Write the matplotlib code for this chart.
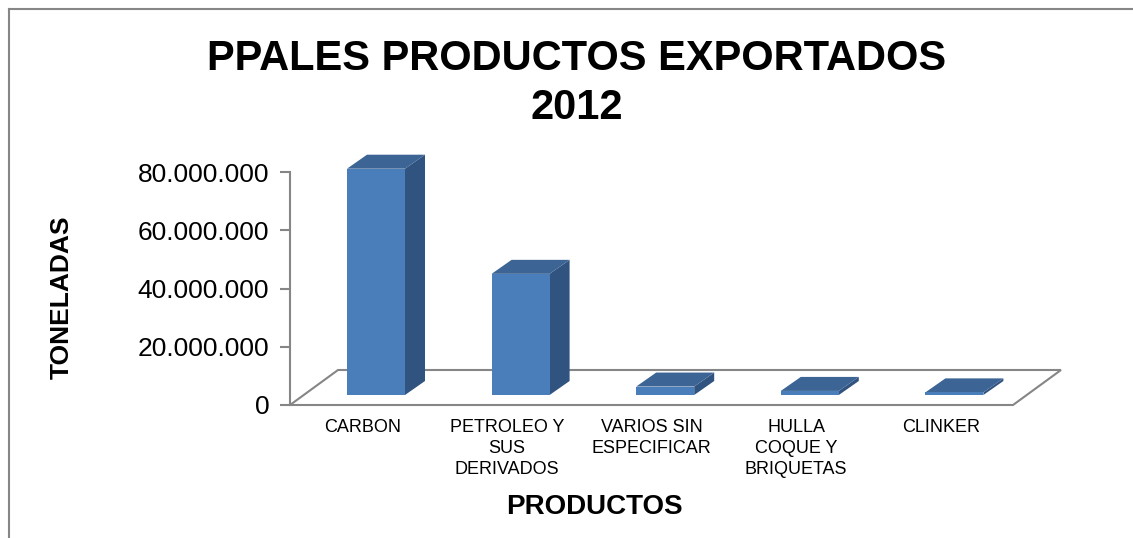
import matplotlib
matplotlib.use('Agg')
import matplotlib.pyplot as plt
from matplotlib.patches import Polygon, Rectangle
from matplotlib.lines import Line2D

# data
categorias = ['CARBON', 'PETROLEO Y\nSUS\nDERIVADOS', 'VARIOS SIN\nESPECIFICAR',
              'HULLA\nCOQUE Y\nBRIQUETAS', 'CLINKER']
toneladas = [77.7e6, 41.6e6, 2.9e6, 1.4e6, 0.9e6]
ticks_y = [0, 20e6, 40e6, 60e6, 80e6]
tick_labels = ['0', '20.000.000', '40.000.000', '60.000.000', '80.000.000']

plt.rcParams['font.family'] = ['Liberation Sans', 'DejaVu Sans']

gris = '#868686'
c_front = '#4A7EBB'
c_top = '#3C6494'
c_side = '#31537F'

fig = plt.figure(figsize=(11.33, 5.38), dpi=100)
ax = fig.add_axes([290 / 1133, 133 / 538, 723 / 1133, 233 / 538])
ax.set_xlim(-0.5, 4.5)
ax.set_ylim(0, 80e6)

# pixel size of one data unit, to fake the 3D depth
bb = ax.get_window_extent()
ux = bb.width / 5
uy = bb.height / 80e6

# floor
fdx, fdy = 48 / ux, 35 / uy
floor = Polygon([(-0.5, 0), (4.5, 0), (4.5 + fdx, fdy), (-0.5 + fdx, fdy)],
                closed=True, facecolor='none', edgecolor=gris, lw=1.5,
                clip_on=False, zorder=1)
ax.add_patch(floor)

# bars
bw = 58 / ux
ox, oy = 13.7 / ux, 10 / uy      # bar sits a bit back on the floor
dx, dy = 20 / ux, 14 / uy        # bar depth
for i, v in enumerate(toneladas):
    x0 = i - bw / 2 + ox
    x1 = x0 + bw
    y0 = oy
    top = y0 + v
    ax.add_patch(Polygon([(x1, y0), (x1 + dx, y0 + dy), (x1 + dx, top + dy), (x1, top)],
                         closed=True, facecolor=c_side, edgecolor='none',
                         clip_on=False, zorder=2))
    ax.add_patch(Polygon([(x0, top), (x1, top), (x1 + dx, top + dy), (x0 + dx, top + dy)],
                         closed=True, facecolor=c_top, edgecolor='none',
                         clip_on=False, zorder=2))
    ax.add_patch(Rectangle((x0, y0), bw, v, facecolor=c_front, edgecolor='none',
                           clip_on=False, zorder=3))

# axes styling
for s in ['top', 'right', 'bottom']:
    ax.spines[s].set_visible(False)
ax.spines['left'].set_color(gris)
ax.spines['left'].set_linewidth(1.5)
ax.set_yticks(ticks_y, tick_labels)
ax.tick_params(axis='y', length=7, width=1.5, color=gris, labelsize=19, pad=8)
ax.set_xticks(range(len(categorias)), categorias)
ax.tick_params(axis='x', length=0, labelsize=13, pad=10)
for lbl in ax.get_xticklabels():
    lbl.set_linespacing(1.3)
ax.patch.set_alpha(0)

# texts
fig.text(577 / 1133, 1 - 39 / 538, 'PPALES PRODUCTOS EXPORTADOS\n2012',
         ha='center', va='top', fontsize=30, fontweight='bold', linespacing=1.3)
fig.text(62 / 1133, 1 - 297 / 538, 'TONELADAS', rotation=90,
         ha='center', va='center', fontsize=19, fontweight='bold')
fig.text(594 / 1133, 1 - 507 / 538, 'PRODUCTOS',
         ha='center', va='center', fontsize=20, fontweight='bold')

# chart border (top and left visible)
fig.add_artist(Line2D([9 / 1133, 9 / 1133], [0, 1 - 9 / 538],
                      transform=fig.transFigure, color=gris, lw=1.5))
fig.add_artist(Line2D([9 / 1133, 1], [1 - 9 / 538, 1 - 9 / 538],
                      transform=fig.transFigure, color=gris, lw=1.5))

fig.savefig('out.png', dpi=100)
